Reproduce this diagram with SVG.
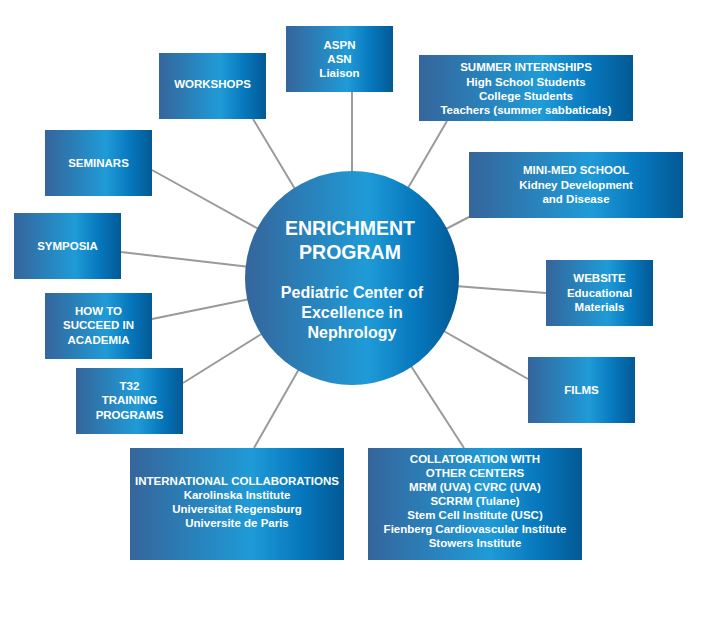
<svg xmlns="http://www.w3.org/2000/svg" width="705" height="619" viewBox="0 0 705 619">
<defs>
<linearGradient id="g" x1="0" y1="0" x2="1" y2="0">
<stop offset="0" stop-color="#35659b"/>
<stop offset="0.57" stop-color="#1f9bd7"/>
<stop offset="0.8" stop-color="#0677bd"/>
<stop offset="1" stop-color="#035994"/>
</linearGradient>
<style>
.box{fill:url(#g)}
.t{font-family:"Liberation Sans",Arial,sans-serif;font-weight:bold;font-size:11.5px;fill:#fff;text-anchor:middle}
.c1{font-family:"Liberation Sans",Arial,sans-serif;font-weight:bold;font-size:19.5px;fill:#fff;text-anchor:middle}
.c2{font-family:"Liberation Sans",Arial,sans-serif;font-weight:bold;font-size:16px;fill:#fff;text-anchor:middle}
.ln{stroke:#9a9a9a;stroke-width:2;fill:none}
</style>
</defs>
<rect width="705" height="619" fill="#fff"/>
<g id="connectors">
<line class="ln" x1="253" y1="119" x2="295" y2="189"/>
<line class="ln" x1="352" y1="92" x2="352" y2="172"/>
<line class="ln" x1="447" y1="121" x2="408" y2="188"/>
<line class="ln" x1="152" y1="170" x2="264" y2="232"/>
<line class="ln" x1="121" y1="252" x2="250" y2="267"/>
<line class="ln" x1="152" y1="319" x2="250" y2="299"/>
<line class="ln" x1="183" y1="383" x2="263" y2="333"/>
<line class="ln" x1="469" y1="217" x2="444" y2="230"/>
<line class="ln" x1="546" y1="293" x2="455" y2="286"/>
<line class="ln" x1="528" y1="379" x2="442" y2="330"/>
<line class="ln" x1="254" y1="448" x2="299" y2="369"/>
<line class="ln" x1="464" y1="448" x2="411" y2="366"/>
</g>
<g id="center">
<circle cx="352" cy="278" r="107" class="box"/>
<text class="c1" x="350" y="235">ENRICHMENT</text>
<text class="c1" x="350" y="259">PROGRAM</text>
<text class="c2" x="352" y="298">Pediatric Center of</text>
<text class="c2" x="352" y="318">Excellence in</text>
<text class="c2" x="352" y="338">Nephrology</text>
</g>
<g id="workshops">
<rect class="box" x="159" y="53" width="107" height="66"/>
<text class="t" x="212.5" y="88">WORKSHOPS</text>
</g>
<g id="aspn">
<rect class="box" x="286" y="26" width="107" height="66"/>
<text class="t" x="339.5" y="48.5">ASPN</text>
<text class="t" x="339.5" y="62.8">ASN</text>
<text class="t" x="339.5" y="77">Liaison</text>
</g>
<g id="summer">
<rect class="box" x="419" y="55" width="214" height="66"/>
<text class="t" x="526" y="71">SUMMER INTERNSHIPS</text>
<text class="t" x="526" y="85.5">High School Students</text>
<text class="t" x="526" y="99.8">College Students</text>
<text class="t" x="526" y="114.2">Teachers (summer sabbaticals)</text>
</g>
<g id="seminars">
<rect class="box" x="45" y="130" width="107" height="66"/>
<text class="t" x="98.5" y="167">SEMINARS</text>
</g>
<g id="symposia">
<rect class="box" x="14" y="213" width="107" height="66"/>
<text class="t" x="67.5" y="250">SYMPOSIA</text>
</g>
<g id="howto">
<rect class="box" x="45" y="293" width="107" height="66"/>
<text class="t" x="98.5" y="315">HOW TO</text>
<text class="t" x="98.5" y="329.3">SUCCEED IN</text>
<text class="t" x="98.5" y="343.5">ACADEMIA</text>
</g>
<g id="t32">
<rect class="box" x="76" y="368" width="107" height="66"/>
<text class="t" x="129.5" y="390">T32</text>
<text class="t" x="129.5" y="404.3">TRAINING</text>
<text class="t" x="129.5" y="418.5">PROGRAMS</text>
</g>
<g id="minimed">
<rect class="box" x="469" y="152" width="214" height="66"/>
<text class="t" x="576" y="174.3">MINI-MED SCHOOL</text>
<text class="t" x="576" y="188.6">Kidney Development</text>
<text class="t" x="576" y="202.8">and Disease</text>
</g>
<g id="website">
<rect class="box" x="546" y="260" width="107" height="66"/>
<text class="t" x="599.5" y="282">WEBSITE</text>
<text class="t" x="599.5" y="296.5">Educational</text>
<text class="t" x="599.5" y="310.8">Materials</text>
</g>
<g id="films">
<rect class="box" x="528" y="357" width="107" height="66"/>
<text class="t" x="581.5" y="393.5">FILMS</text>
</g>
<g id="international">
<rect class="box" x="130" y="448" width="214" height="112"/>
<text class="t" x="237" y="485">INTERNATIONAL COLLABORATIONS</text>
<text class="t" x="237" y="499.2">Karolinska Institute</text>
<text class="t" x="237" y="513.3">Universitat Regensburg</text>
<text class="t" x="237" y="527.4">Universite de Paris</text>
</g>
<g id="collab">
<rect class="box" x="368" y="448" width="214" height="112"/>
<text class="t" x="475" y="463.3">COLLATORATION WITH</text>
<text class="t" x="475" y="477.3">OTHER CENTERS</text>
<text class="t" x="475" y="491.3">MRM (UVA) CVRC (UVA)</text>
<text class="t" x="475" y="505.3">SCRRM (Tulane)</text>
<text class="t" x="475" y="519.4">Stem Cell Institute (USC)</text>
<text class="t" x="475" y="533.4">Fienberg Cardiovascular Institute</text>
<text class="t" x="475" y="547.4">Stowers Institute</text>
</g>
</svg>
